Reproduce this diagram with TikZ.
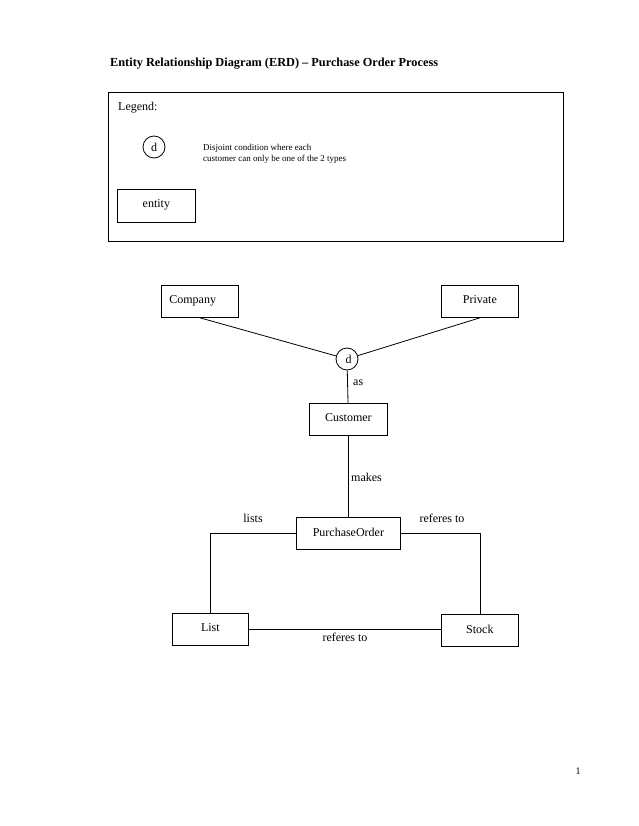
\documentclass[tikz,border=0pt]{standalone}
\usepackage{fontspec}
\setmainfont{Liberation Serif}
\begin{document}
\begin{tikzpicture}[x=1pt,y=-1pt,
  entitybox/.style={draw,line width=0.8pt,minimum width=77pt,minimum height=32pt,inner sep=0pt,font=\fontsize{12}{14}\selectfont},
  disjoint/.style={draw,circle,line width=0.8pt,minimum size=22pt,inner sep=0pt,font=\fontsize{12}{14}\selectfont},
  conn/.style={line width=0.8pt},
  lbl/.style={font=\fontsize{12}{14}\selectfont,inner sep=0pt}]
\useasboundingbox (0,0) rectangle (638,826);
% title
\node[anchor=west,inner sep=0pt,font=\bfseries\fontsize{12.3}{14}\selectfont] (title) at (110,64) {Entity Relationship Diagram (ERD) – Purchase Order Process};
% legend
\node[draw,line width=0.9pt,minimum width=455pt,minimum height=149pt,inner sep=0pt,anchor=north west] (legend) at (108,92) {};
\node[lbl,anchor=west] (legtitle) at (118,108) {Legend:};
\node[disjoint] (legd) at (154,147) {\raisebox{-3pt}{d}};
\node[anchor=west,align=left,inner sep=0pt,font=\fontsize{9}{10.5}\selectfont] (legtext) at (203,154) {Disjoint condition where each\\customer can only be one of the 2 types};
\node[entitybox,minimum width=78pt,minimum height=33pt,anchor=north west] (legent) at (117,189) {\raisebox{4pt}{entity}};
% diagram
\node[entitybox,anchor=north west,text width=61pt,align=left,inner xsep=8pt,inner ysep=0pt] (company) at (161,285) {\raisebox{4pt}{Company}};
\node[entitybox,anchor=north west] (private) at (441,285) {\raisebox{4pt}{Private}};
\node[disjoint] (d) at (347,359) {\hspace*{3pt}\raisebox{-3pt}{d}};
\node[entitybox,anchor=north west,minimum width=78pt] (customer) at (309,403) {\raisebox{3pt}{Customer}};
\node[entitybox,anchor=north west,minimum width=104pt] (po) at (296,517) {\raisebox{3pt}{PurchaseOrder}};
\node[entitybox,anchor=north west,minimum width=76pt] (list) at (172,613) {\raisebox{4pt}{List}};
\node[entitybox,anchor=north west] (stock) at (441,614) {\raisebox{3pt}{Stock}};
% connectors
\draw[conn] (company.south) -- (d);
\draw[conn] (private.south) -- (d);
\draw[conn] (d) -- (customer);
\draw[conn] (customer) -- (po);
\draw[conn] (po.west) -| (list.north);
\draw[conn] (po.east) -| (stock.north);
\draw[conn] (list.east) -- (list.east -| stock.west);
% labels
\node[lbl,anchor=west] (las) at (353,383) {as};
\node[lbl,anchor=west] (lmakes) at (351,477) {makes};
\node[lbl] (llists) at (253,518) {lists};
\node[lbl] (lref1) at (442,518) {referes to};
\node[lbl] (lref2) at (345,637) {referes to};
\node[inner sep=0pt,font=\fontsize{10}{12}\selectfont] (pagenum) at (578,771) {1};
\end{tikzpicture}
\end{document}
